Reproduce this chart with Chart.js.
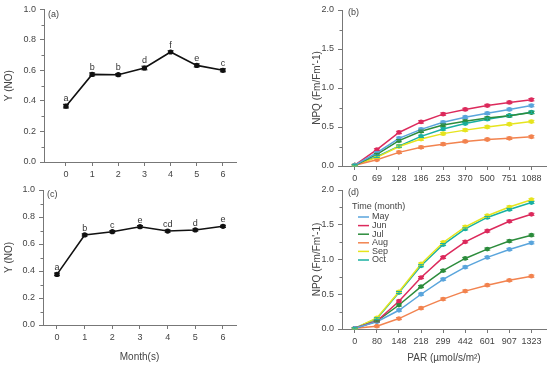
<!DOCTYPE html>
<html lang="en">
<head>
<meta charset="UTF-8">
<title>Y(NO) and NPQ by month</title>
<style>
    body { margin: 0; background: #fff; }
    .wrap { position: relative; width: 550px; height: 366px; }
    .wrap canvas { position: absolute; left: 0; top: 0; }
</style>
</head>
<body>
<div class="wrap">
    <canvas id="chartA" width="550" height="366"></canvas>
    <canvas id="chartB" width="550" height="366"></canvas>
    <canvas id="chartC" width="550" height="366"></canvas>
    <canvas id="chartD" width="550" height="366"></canvas>
</div>

<script src="https://cdn.jsdelivr.net/npm/chart.js"></script>
<script>
// ---- data ----
const months = [0, 1, 2, 3, 4, 5, 6];

const yNoA = [0.366, 0.574, 0.572, 0.616, 0.721, 0.633, 0.601];
const yNoAErr = [0.012, 0.010, 0.008, 0.012, 0.008, 0.010, 0.010];
const lettersA = ['a', 'b', 'b', 'd', 'f', 'e', 'c'];

const yNoC = [0.375, 0.667, 0.691, 0.728, 0.696, 0.704, 0.731];
const yNoCErr = [0.010, 0.008, 0.008, 0.008, 0.008, 0.008, 0.008];
const lettersC = ['a', 'b', 'c', 'e', 'cd', 'd', 'e'];

const seriesNames = ['May', 'Jun', 'Jul', 'Aug', 'Sep', 'Oct'];
const seriesColors = ['#5aa5dc', '#dc2a5c', '#2c8c3c', '#f2834f', '#e6e41e', '#18b0a2'];

const parB = ['0', '69', '128', '186', '253', '370', '500', '751', '1088'];
const npqMayB = [0.01, 0.17, 0.355, 0.47, 0.56, 0.625, 0.675, 0.725, 0.775];
const npqJunB = [0.01, 0.21, 0.43, 0.565, 0.665, 0.725, 0.775, 0.815, 0.85];
const npqJulB = [0.01, 0.15, 0.325, 0.445, 0.525, 0.575, 0.615, 0.645, 0.685];
const npqAugB = [0.01, 0.08, 0.175, 0.24, 0.28, 0.315, 0.34, 0.355, 0.375];
const npqSepB = [0.01, 0.11, 0.25, 0.345, 0.415, 0.46, 0.5, 0.535, 0.57];
const npqOctB = [0.01, 0.12, 0.255, 0.38, 0.475, 0.545, 0.6, 0.645, 0.69];

const parD = ['0', '80', '148', '218', '299', '442', '601', '907', '1323'];
const npqMayD = [0.01, 0.105, 0.27, 0.50, 0.715, 0.89, 1.03, 1.145, 1.24];
const npqJunD = [0.01, 0.115, 0.40, 0.74, 1.03, 1.255, 1.41, 1.55, 1.65];
const npqJulD = [0.01, 0.115, 0.345, 0.61, 0.84, 1.015, 1.15, 1.265, 1.35];
const npqAugD = [0.01, 0.04, 0.15, 0.30, 0.43, 0.545, 0.63, 0.70, 0.76];
const npqSepD = [0.01, 0.16, 0.535, 0.935, 1.245, 1.47, 1.63, 1.755, 1.86];
const npqOctD = [0.01, 0.15, 0.525, 0.91, 1.215, 1.44, 1.605, 1.72, 1.82];

const npqErr = [0.01, 0.012, 0.015, 0.015, 0.015, 0.015, 0.015, 0.015, 0.015];

// ---- look ----
const FONT = 'Liberation Sans, Arial, sans-serif';
const TEXT = '#444';
const AXIS = '#777';

// error bars + letters above points
const errorBars = {
    id: 'errorBars',
    afterDatasetsDraw(chart) {
        const ctx = chart.ctx;
        const ys = chart.scales.y;
        chart.data.datasets.forEach((ds, di) => {
            if (!ds.errors) return;
            const meta = chart.getDatasetMeta(di);
            ctx.save();
            ctx.strokeStyle = ds.borderColor;
            ctx.lineWidth = 1;
            meta.data.forEach((pt, i) => {
                const v = ds.data[i].y;
                const top = ys.getPixelForValue(v + ds.errors[i]);
                const bot = ys.getPixelForValue(v - ds.errors[i]);
                ctx.beginPath();
                ctx.moveTo(pt.x, top); ctx.lineTo(pt.x, bot);
                ctx.moveTo(pt.x - 3, top); ctx.lineTo(pt.x + 3, top);
                ctx.moveTo(pt.x - 3, bot); ctx.lineTo(pt.x + 3, bot);
                ctx.stroke();
                if (ds.letters) {
                    ctx.fillStyle = '#333';
                    ctx.font = '9px ' + FONT;
                    ctx.textAlign = 'center';
                    ctx.textBaseline = 'bottom';
                    ctx.fillText(ds.letters[i], pt.x, top - 1);
                }
            });
            ctx.restore();
        });
    }
};

// minor ticks on y axis, panel tag, and the side legend
const extras = {
    id: 'extras',
    afterDraw(chart, args, opts) {
        const ctx = chart.ctx;
        const area = chart.chartArea;
        const ys = chart.scales.y;
        ctx.save();
        ctx.strokeStyle = AXIS;
        ctx.lineWidth = 1;
        if (opts.minorStep) {
            const n = Math.round((ys.max - ys.min) / opts.minorStep);
            for (let i = 1; i < n; i += 2) {
                const y = Math.round(ys.getPixelForValue(ys.min + i * opts.minorStep)) + 0.5;
                ctx.beginPath();
                ctx.moveTo(area.left - 2.5, y);
                ctx.lineTo(area.left, y);
                ctx.stroke();
            }
        }
        ctx.fillStyle = TEXT;
        ctx.font = '9px ' + FONT;
        ctx.textAlign = 'left';
        ctx.textBaseline = 'middle';
        if (opts.tag) {
            ctx.fillText(opts.tag, area.left + opts.tagDx, area.top + opts.tagDy);
        }
        if (opts.legend) {
            ctx.fillText('Time (month)', area.left + 10, area.top + 17);
            chart.data.datasets.forEach((ds, i) => {
                const y = area.top + 27 + i * 8.6;
                ctx.strokeStyle = ds.borderColor;
                ctx.lineWidth = 1.5;
                ctx.beginPath();
                ctx.moveTo(area.left + 16, y);
                ctx.lineTo(area.left + 27, y);
                ctx.stroke();
                ctx.fillText(ds.label, area.left + 30, y);
            });
        }
        ctx.restore();
    }
};

function tickFont(size) {
    return { family: FONT, size: size };
}

function axisBase() {
    return {
        grid: { display: true, drawOnChartArea: false, drawTicks: true, tickLength: 4, color: AXIS },
        border: { display: true, color: AXIS, width: 1 }
    };
}

function monthChart(id, values, errors, letters, padding, yWidth, xHeight, xMin, xMax, tag, showTitle) {
    const points = months.map((m, i) => ({ x: m, y: values[i] }));
    const xAxis = Object.assign(axisBase(), {
        type: 'linear', min: xMin, max: xMax,
        afterBuildTicks: s => { s.ticks = months.map(v => ({ value: v })); },
        ticks: { color: TEXT, font: tickFont(9), padding: 3, maxRotation: 0, callback: v => String(v) },
        title: { display: showTitle, text: 'Month(s)', color: TEXT, font: tickFont(10), padding: { top: 0, bottom: 3 } },
        afterFit: s => { s.height = xHeight; }
    });
    const yAxis = Object.assign(axisBase(), {
        min: 0, max: 1,
        ticks: { stepSize: 0.2, color: TEXT, font: tickFont(9), padding: 4, callback: v => v.toFixed(1) },
        title: { display: true, text: 'Y (NO)', color: TEXT, font: tickFont(10), padding: { top: 3, bottom: 0 } },
        afterFit: s => { s.width = yWidth; }
    });
    return new Chart(document.getElementById(id), {
        type: 'line',
        data: {
            datasets: [{
                data: points,
                errors: errors,
                letters: letters,
                borderColor: '#111',
                backgroundColor: '#111',
                borderWidth: 1.6,
                pointRadius: 2.6,
                pointBorderWidth: 0,
                tension: 0
            }]
        },
        options: {
            responsive: false,
            animation: false,
            layout: { padding: padding },
            scales: { x: xAxis, y: yAxis },
            plugins: {
                legend: { display: false },
                tooltip: { enabled: false },
                extras: { minorStep: 0.1, tag: tag, tagDx: 4, tagDy: 5 }
            }
        },
        plugins: [errorBars, extras]
    });
}

function npqChart(id, labels, seriesValues, padding, xHeight, tag, showTitle, showLegend) {
    const datasets = seriesNames.map((name, si) => ({
        label: name,
        data: seriesValues[si].map((v, i) => ({ x: i, y: v })),
        errors: npqErr,
        borderColor: seriesColors[si],
        backgroundColor: seriesColors[si],
        borderWidth: 1.5,
        pointRadius: 2.4,
        pointBorderWidth: 0,
        tension: 0
    }));
    const xAxis = Object.assign(axisBase(), {
        type: 'linear', min: -0.58, max: 8.66,
        afterBuildTicks: s => { s.ticks = labels.map((l, i) => ({ value: i })); },
        ticks: { color: TEXT, font: tickFont(9), padding: 3, maxRotation: 0, callback: v => labels[v] },
        title: { display: showTitle, text: 'PAR (\u00b5mol/s/m\u00b2)', color: TEXT, font: tickFont(10), padding: { top: 0, bottom: 2 } },
        afterFit: s => { s.height = xHeight; }
    });
    const yAxis = Object.assign(axisBase(), {
        min: 0, max: 2,
        ticks: { stepSize: 0.5, color: TEXT, font: tickFont(9), padding: 4, callback: v => v.toFixed(1) },
        title: { display: true, text: "NPQ (Fm/Fm'-1)", color: TEXT, font: tickFont(10), padding: { top: 31, bottom: 0 } },
        afterFit: s => { s.width = 62; }
    });
    return new Chart(document.getElementById(id), {
        type: 'line',
        data: { datasets: datasets },
        options: {
            responsive: false,
            animation: false,
            layout: { padding: padding },
            scales: { x: xAxis, y: yAxis },
            plugins: {
                legend: { display: false },
                tooltip: { enabled: false },
                extras: { minorStep: 0.25, tag: tag, tagDx: 6, tagDy: 3, legend: showLegend }
            }
        },
        plugins: [errorBars, extras]
    });
}

monthChart('chartA', yNoA, yNoAErr, lettersA, { left: 0, top: 9, right: 314, bottom: 184 }, 44, 20, -0.84, 6.5, '(a)', false);
monthChart('chartC', yNoC, yNoCErr, lettersC, { left: 0, top: 190, right: 314, bottom: 0 }, 43, 41, -0.506, 6.47, '(c)', true);

npqChart('chartB', parB, [npqMayB, npqJunB, npqJulB, npqAugB, npqSepB, npqOctB],
    { left: 280, top: 10, right: 1, bottom: 180 }, 20, '(b)', false, false);
npqChart('chartD', parD, [npqMayD, npqJunD, npqJulD, npqAugD, npqSepD, npqOctD],
    { left: 280, top: 190, right: 1, bottom: 0 }, 37, '(d)', true, true);
</script>
</body>
</html>
